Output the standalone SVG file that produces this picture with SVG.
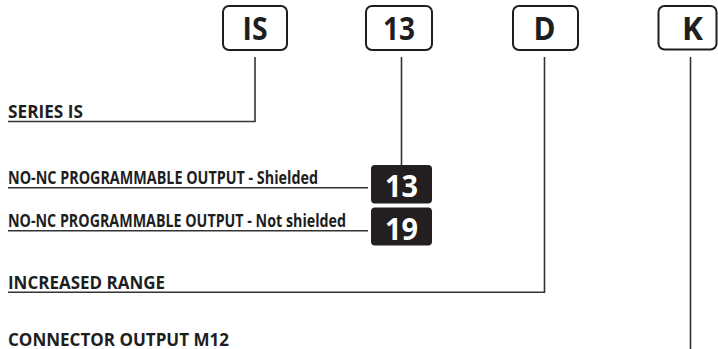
<svg xmlns="http://www.w3.org/2000/svg" width="718" height="349" viewBox="0 0 718 349">
<style>
.box{fill:#fff;stroke:#1e1e1e;stroke-width:2}
.badge{fill:#231f20}
.code{font-family:"Open Sans","Liberation Sans",sans-serif;font-weight:700;font-size:32px;fill:#1e1e1e;text-anchor:middle}
.num{font-family:"Open Sans","Liberation Sans",sans-serif;font-weight:700;font-size:31px;fill:#fff;text-anchor:middle}
.lbl{font-family:"Open Sans","Liberation Sans",sans-serif;font-weight:700;font-size:17px;fill:#1e1e1e}
.ln{fill:none;stroke:#333;stroke-width:1.6}
</style>
<rect width="718" height="349" fill="#fff"/>
<g id="connectors">
<polyline class="ln" points="255,57 255,121.5 8,121.5"/>
<line class="ln" x1="401.5" y1="57" x2="401.5" y2="165"/>
<line class="ln" x1="8" y1="187.8" x2="368" y2="187.8"/>
<line class="ln" x1="8" y1="230.8" x2="368" y2="230.8"/>
<polyline class="ln" points="544.5,57 544.5,292.3 8,292.3"/>
<line class="ln" x1="690.5" y1="57" x2="690.5" y2="349"/>
</g>
<g id="code-IS"><rect class="box" x="223" y="6" width="64" height="44" rx="6"/><text class="code" x="255" y="39.5" textLength="25" lengthAdjust="spacingAndGlyphs">IS</text></g>
<g id="code-13"><rect class="box" x="366" y="6" width="66" height="44" rx="6"/><text class="code" x="399" y="39.5" textLength="32" lengthAdjust="spacingAndGlyphs">13</text></g>
<g id="code-D"><rect class="box" x="513" y="6" width="65" height="44" rx="6"/><text class="code" x="544.5" y="39.5" textLength="22" lengthAdjust="spacingAndGlyphs">D</text></g>
<g id="code-K"><rect class="box" x="658.5" y="6" width="58" height="43.5" rx="6"/><text class="code" x="692.5" y="39.5" textLength="21" lengthAdjust="spacingAndGlyphs">K</text></g>
<g id="label-series"><text class="lbl" x="8" y="117.5" textLength="75" lengthAdjust="spacingAndGlyphs">SERIES IS</text></g>
<g id="label-shielded"><text class="lbl" x="8" y="183.5" textLength="310" lengthAdjust="spacingAndGlyphs">NO-NC PROGRAMMABLE OUTPUT - Shielded</text></g>
<g id="badge-13"><rect class="badge" x="371" y="165" width="61" height="38.5" rx="4"/><text class="num" x="401.5" y="197" textLength="33" lengthAdjust="spacingAndGlyphs">13</text></g>
<g id="label-notshielded"><text class="lbl" x="8" y="226.7" textLength="338" lengthAdjust="spacingAndGlyphs">NO-NC PROGRAMMABLE OUTPUT - Not shielded</text></g>
<g id="badge-19"><rect class="badge" x="371" y="207.5" width="61" height="38" rx="4"/><text class="num" x="401.5" y="240" textLength="33" lengthAdjust="spacingAndGlyphs">19</text></g>
<g id="label-range"><text class="lbl" x="8" y="289" textLength="157" lengthAdjust="spacingAndGlyphs">INCREASED RANGE</text></g>
<g id="label-connector"><text class="lbl" x="8" y="346" textLength="221" lengthAdjust="spacingAndGlyphs">CONNECTOR OUTPUT M12</text></g>
</svg>
